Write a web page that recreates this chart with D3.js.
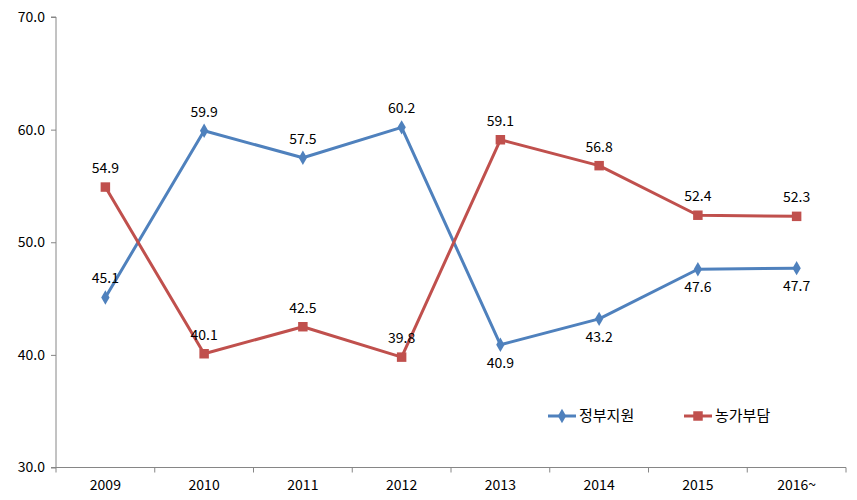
<!DOCTYPE html>
<html><head><meta charset="utf-8">
<script src="https://cdn.jsdelivr.net/npm/d3@7"></script>
<style>body{margin:0;background:#fff;} svg{display:block;}</style>
</head><body>
<svg id="c" width="857" height="500"></svg>
<script>
const categories = ["2009","2010","2011","2012","2013","2014","2015","2016~"];
const govSupport = [45.1,59.9,57.5,60.2,40.9,43.2,47.6,47.7];
const farmBurden = [54.9,40.1,42.5,39.8,59.1,56.8,52.4,52.3];
const govLabelPos = ["above","above","above","above","below","below","below","below"];
const yTicks = [30,40,50,60,70];
const seriesNames = ["정부지원","농가부담"];

(function(){
const svg = d3.select("#c");
const font = "'Noto Sans CJK KR','Malgun Gothic',sans-serif";
const pL = 56, pR = 846, pT = 17, pB = 467.5;
const x = d3.scaleBand().domain(categories).range([pL, pR]);
const y = d3.scaleLinear().domain([30,70]).range([pB, pT]);
const blue = "#4F81BD", red = "#C0504D";

// y axis
const ya = svg.append("g").attr("transform",`translate(${pL},0)`)
  .call(d3.axisLeft(y).tickValues(yTicks).tickFormat(d3.format(".1f")).tickSize(5).tickPadding(6));
ya.select(".domain").attr("stroke","#868686").attr("d",`M-5,${pT}H0V${pB}H-5`);
ya.selectAll(".tick line").attr("stroke","#868686");
ya.selectAll("text").attr("font-family",font).attr("font-size",14).attr("fill","#000");

// x axis
const xa = svg.append("g").attr("transform",`translate(0,${pB})`)
  .call(d3.axisBottom(x).tickSize(0).tickPadding(13));
xa.select(".domain").attr("stroke","#868686").attr("d",`M${pL},0H${pR}`);
xa.selectAll("text").attr("font-family",font).attr("font-size",14).attr("fill","#000");
const edges = categories.map(c => x(c)).concat([pR]);
xa.selectAll(".edge").data(edges).enter().append("line")
  .attr("x1",d=>d).attr("x2",d=>d).attr("y1",0).attr("y2",5).attr("stroke","#868686");

const cx = c => x(c) + x.bandwidth()/2;
const line = d3.line().x((d,i)=>cx(categories[i])).y(d=>y(d));

function drawSeries(vals, color, sym, size, posArr){
  svg.append("path").datum(vals).attr("d",line).attr("fill","none")
    .attr("stroke",color).attr("stroke-width",3).attr("stroke-linejoin","round");
  svg.selectAll(null).data(vals).enter().append("path")
    .attr("d", d3.symbol().type(sym).size(size))
    .attr("transform",(d,i)=>`translate(${cx(categories[i])},${y(d)})`)
    .attr("fill",color);
  svg.selectAll(null).data(vals).enter().append("text")
    .attr("x",(d,i)=>cx(categories[i]))
    .attr("y",(d,i)=> posArr[i]==="above" ? y(d)-14 : y(d)+23)
    .attr("text-anchor","middle").attr("font-family",font).attr("font-size",14).attr("fill","#000")
    .text(d=>d.toFixed(1));
}
drawSeries(govSupport, blue, d3.symbolDiamond, 60, govLabelPos);
drawSeries(farmBurden, red, d3.symbolSquare, 90, categories.map(()=>"above"));

// legend
const legend = [{name:seriesNames[0],color:blue,sym:d3.symbolDiamond,size:60,x:548},
                {name:seriesNames[1],color:red,sym:d3.symbolSquare,size:90,x:684}];
const lg = svg.append("g");
legend.forEach(l=>{
  lg.append("line").attr("x1",l.x).attr("x2",l.x+28).attr("y1",416).attr("y2",416)
    .attr("stroke",l.color).attr("stroke-width",3);
  lg.append("path").attr("d",d3.symbol().type(l.sym).size(l.size)).attr("transform",`translate(${l.x+14},416)`).attr("fill",l.color);
  lg.append("text").attr("x",l.x+31).attr("y",421).attr("font-family",font).attr("font-size",15).attr("fill","#000").text(l.name);
});
})();
</script>
</body></html>
